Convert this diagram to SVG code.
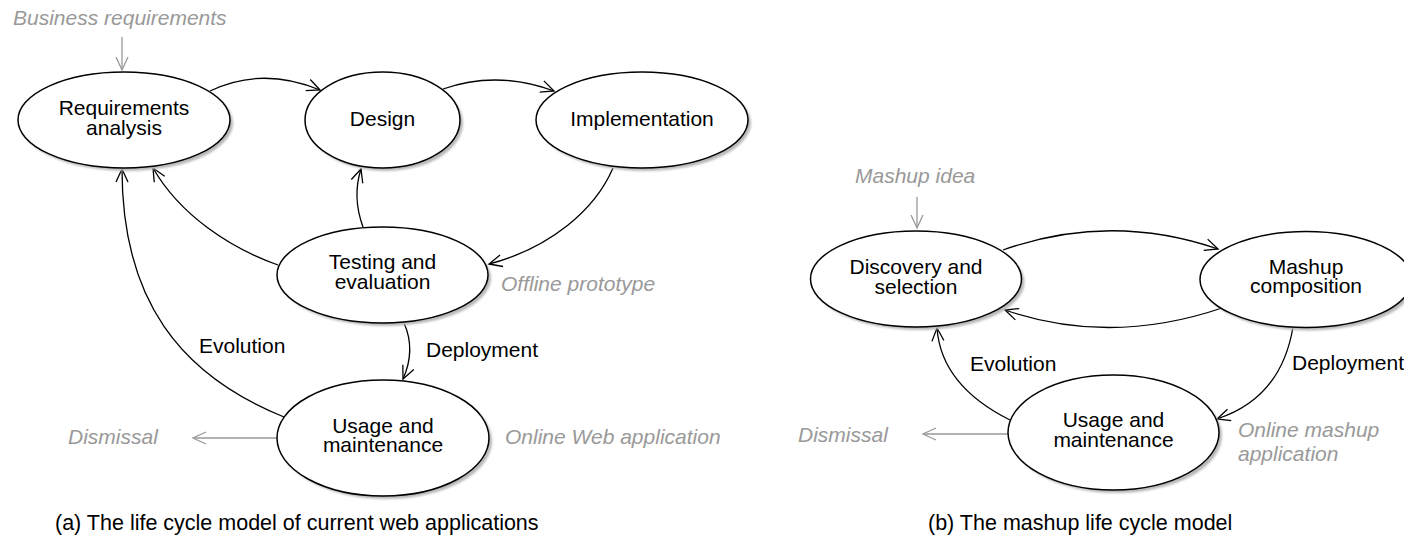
<svg xmlns="http://www.w3.org/2000/svg" width="1404" height="555" viewBox="0 0 1404 555">
<style>
.node ellipse.shape{fill:#fff;stroke:#000;stroke-width:1.5}
.node ellipse.shadow{fill:#b8b8b8;stroke:none;filter:url(#blur)}
text{font-family:"Liberation Sans",Arial,sans-serif;font-size:21px}
.lbl{fill:#000;text-anchor:middle}
.note{fill:#999;font-style:italic}
.edge{fill:none;stroke:#000;stroke-width:1.3;marker-end:url(#ah)}
.gedge{fill:none;stroke:#999;stroke-width:1.3;marker-end:url(#gah)}
.cap{fill:#000;font-size:21.5px}
</style>
<defs>
<filter id="blur" x="-10%" y="-10%" width="120%" height="120%"><feGaussianBlur stdDeviation="1.2"/></filter>
<marker id="ah" markerUnits="userSpaceOnUse" markerWidth="16" markerHeight="16" refX="13" refY="6" orient="auto" overflow="visible">
<path d="M0,0 L13,6 L0,12" fill="none" stroke="#000" stroke-width="1.3"/>
</marker>
<marker id="gah" markerUnits="userSpaceOnUse" markerWidth="16" markerHeight="16" refX="13" refY="6" orient="auto" overflow="visible">
<path d="M0,0 L13,6 L0,12" fill="none" stroke="#999" stroke-width="1.3"/>
</marker>
</defs>

<g id="connectors">
<path class="gedge" d="M122,37 L122,70"/>
<path class="edge" d="M210,91 Q262,66 320,90"/>
<path class="edge" d="M443,89 Q497,70 554,91"/>
<path class="edge" d="M613,168 C595,210 550,248 489,264"/>
<path class="edge" d="M363,227 Q352,197 361,169"/>
<path class="edge" d="M278,265 C230,248 180,215 153,168"/>
<path class="edge" d="M284,417 C180,375 122,300 122,169"/>
<path class="edge" d="M404,323 Q416,350 403,379"/>
<path class="gedge" d="M277,438 L193,438"/>

<path class="gedge" d="M917,197 L917,228"/>
<path class="edge" d="M1003,250 Q1110,212 1218,249"/>
<path class="edge" d="M1222,308 Q1110,346 1005,310"/>
<path class="edge" d="M1293,327 C1285,375 1260,405 1217,419"/>
<path class="edge" d="M1010,420 C970,400 940,370 937,328"/>
<path class="gedge" d="M1008,434 L923,434"/>
</g>

<g id="labels">
<text class="note" x="13" y="25">Business requirements</text>
<text class="note" x="501" y="291">Offline prototype</text>
<text class="note" x="505" y="444">Online Web application</text>
<text class="note" x="68" y="444">Dismissal</text>
<text x="199" y="353">Evolution</text>
<text x="426" y="357">Deployment</text>
<text class="cap" x="55" y="530">(a) The life cycle model of current web applications</text>

<text class="note" x="855" y="183">Mashup idea</text>
<text class="note" x="798" y="442">Dismissal</text>
<text x="970" y="371">Evolution</text>
<text x="1292" y="370">Deployment</text>
<text class="note" x="1238" y="437">Online mashup</text>
<text class="note" x="1238" y="461">application</text>
<text class="cap" x="928" y="530">(b) The mashup life cycle model</text>
</g>

<g id="req" class="node">
<ellipse class="shadow" cx="127" cy="123" rx="106" ry="48"/>
<ellipse class="shape" cx="124" cy="120" rx="106" ry="48"/>
<text class="lbl" x="124" y="115">Requirements</text>
<text class="lbl" x="124" y="135">analysis</text>
</g>
<g id="design" class="node">
<ellipse class="shadow" cx="385.5" cy="123" rx="77.5" ry="48"/>
<ellipse class="shape" cx="382.5" cy="120" rx="77.5" ry="48"/>
<text class="lbl" x="382.5" y="126">Design</text>
</g>
<g id="impl" class="node">
<ellipse class="shadow" cx="645" cy="123" rx="106" ry="48"/>
<ellipse class="shape" cx="642" cy="120" rx="106" ry="48"/>
<text class="lbl" x="642" y="126">Implementation</text>
</g>
<g id="testing" class="node">
<ellipse class="shadow" cx="385.5" cy="278" rx="105.5" ry="48"/>
<ellipse class="shape" cx="382.5" cy="275" rx="105.5" ry="48"/>
<text class="lbl" x="382.5" y="269">Testing and</text>
<text class="lbl" x="382.5" y="289">evaluation</text>
</g>
<g id="usage-a" class="node">
<ellipse class="shadow" cx="386" cy="441" rx="106" ry="58"/>
<ellipse class="shape" cx="383" cy="438" rx="106" ry="58"/>
<text class="lbl" x="383" y="433">Usage and</text>
<text class="lbl" x="383" y="452">maintenance</text>
</g>

<g id="discovery" class="node">
<ellipse class="shadow" cx="919" cy="282" rx="105.5" ry="48"/>
<ellipse class="shape" cx="916" cy="279" rx="105.5" ry="48"/>
<text class="lbl" x="916" y="274">Discovery and</text>
<text class="lbl" x="916" y="294">selection</text>
</g>
<g id="composition" class="node">
<ellipse class="shadow" cx="1309" cy="282.5" rx="106" ry="48"/>
<ellipse class="shape" cx="1306" cy="279.5" rx="106" ry="48"/>
<text class="lbl" x="1306" y="274">Mashup</text>
<text class="lbl" x="1306" y="293">composition</text>
</g>
<g id="usage-b" class="node">
<ellipse class="shadow" cx="1116.5" cy="435.5" rx="105.5" ry="57.5"/>
<ellipse class="shape" cx="1113.5" cy="432.5" rx="105.5" ry="57.5"/>
<text class="lbl" x="1113.5" y="427">Usage and</text>
<text class="lbl" x="1113.5" y="447">maintenance</text>
</g>
</svg>
